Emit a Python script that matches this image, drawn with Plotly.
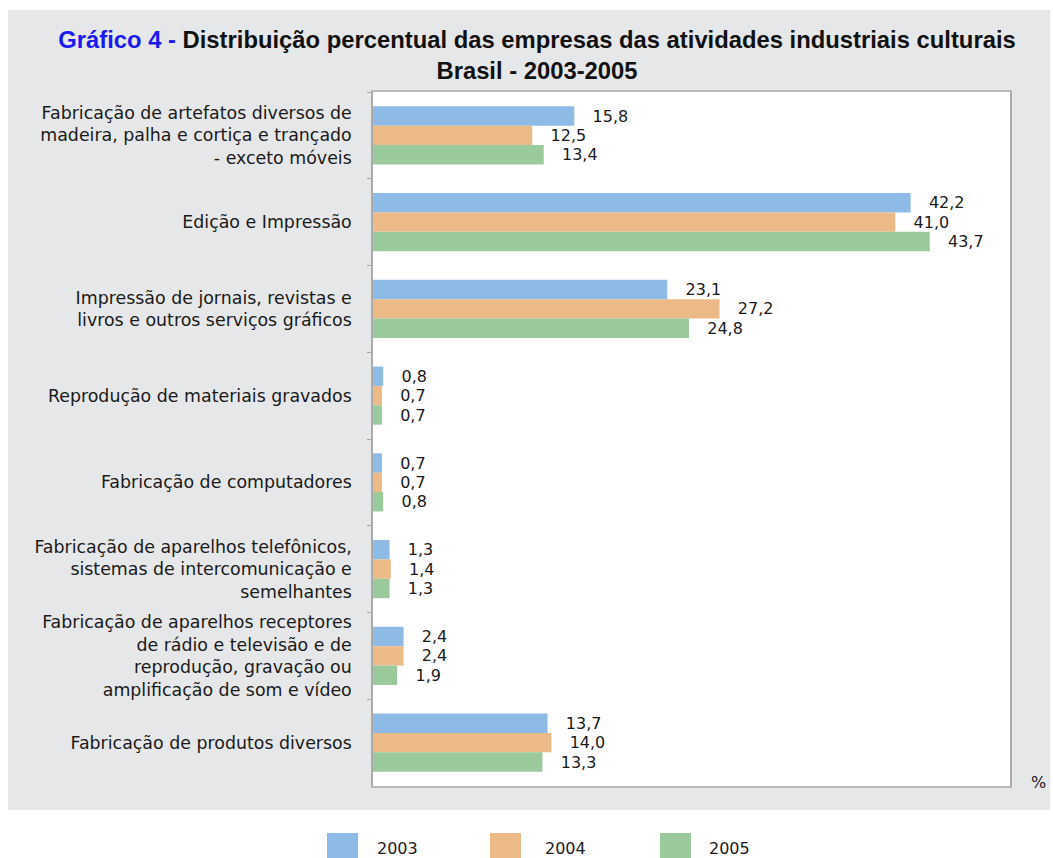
import plotly.graph_objects as go

categories = [
    "Fabricação de artefatos diversos de<br>madeira, palha e cortiça e trançado<br>- exceto móveis",
    "Edição e Impressão",
    "Impressão de jornais, revistas e<br>livros e outros serviços gráficos",
    "Reprodução de materiais gravados",
    "Fabricação de computadores",
    "Fabricação de aparelhos telefônicos,<br>sistemas de intercomunicação e<br>semelhantes",
    "Fabricação de aparelhos receptores<br>de rádio e televisão e de<br>reprodução, gravação ou<br>amplificação de som e vídeo",
    "Fabricação de produtos diversos",
]
years = ["2003", "2004", "2005"]
v2003 = [15.8, 42.2, 23.1, 0.8, 0.7, 1.3, 2.4, 13.7]
v2004 = [12.5, 41.0, 27.2, 0.7, 0.7, 1.4, 2.4, 14.0]
v2005 = [13.4, 43.7, 24.8, 0.7, 0.8, 1.3, 1.9, 13.3]
series = [v2003, v2004, v2005]
colors = ["#8dbbe6", "#ecba87", "#9ac99c"]

W, H = 1053, 858
ML, MR, MT, MB = 373, 43, 92, 72
PW, PH = W - ML - MR, H - MT - MB

def px_x(p):
    return (p - ML) / PW

def px_y(p):
    return (H - MB - p) / PH

FONT = "DejaVu Sans, sans-serif"
NB = "\u00a0"

fig = go.Figure()
for name, vals, col in zip(years, series, colors):
    fig.add_trace(go.Bar(
        name=name, y=categories, x=vals, orientation="h",
        marker=dict(color=col, line=dict(width=0)),
        text=[NB * 3 + f"{v:.1f}".replace(".", ",") for v in vals],
        textposition="outside", constraintext="none", cliponaxis=False,
        textfont=dict(family=FONT, size=16, color="#1a1a1a"),
        showlegend=False, hoverinfo="x+name",
    ))

shapes = [
    dict(type="rect", xref="paper", yref="paper",
         x0=px_x(8), x1=px_x(1050), y0=px_y(810), y1=px_y(10),
         fillcolor="#e6e7e8", line=dict(width=0), layer="below"),
    dict(type="rect", xref="paper", yref="paper", x0=0, x1=1, y0=0, y1=1,
         fillcolor="white", line=dict(width=0), layer="below"),
]
annotations = [dict(text="%", xref="paper", yref="paper", x=px_x(1038), y=px_y(782),
                    showarrow=False, xanchor="center", yanchor="middle",
                    font=dict(family=FONT, size=16, color="#1a1a1a"))]

# legend
sw_x = [327, 490, 660]
tx_x = [375, 543, 707]
for name, col, sx, tx in zip(years, colors, sw_x, tx_x):
    shapes.append(dict(type="rect", xref="paper", yref="paper",
                       x0=px_x(sx), x1=px_x(sx + 31), y0=px_y(858), y1=px_y(833),
                       fillcolor=col, line=dict(width=0)))
    annotations.append(dict(text=name, xref="paper", yref="paper", x=px_x(tx), y=px_y(848),
                            showarrow=False, xanchor="left", yanchor="middle",
                            font=dict(family=FONT, size=16, color="#1a1a1a")))

fig.update_layout(
    width=W, height=H,
    margin=dict(l=ML, r=MR, t=MT, b=MB, pad=0),
    paper_bgcolor="white", plot_bgcolor="white",
    barmode="group", bargap=0.33, bargroupgap=0,
    title=dict(
        text="<span style='color:#1a1aee'>Gráfico 4 - </span>Distribuição percentual das empresas das atividades industriais culturais<br>Brasil - 2003-2005",
        x=537 / W, xanchor="center", y=1 - 48 / H, yanchor="middle", yref="container",
        font=dict(family="Liberation Sans Narrow, Arial Narrow, Liberation Sans, sans-serif", size=23.8, color="#111111", weight="bold"),
    ),
    xaxis=dict(range=[0, 50], showticklabels=False, showgrid=False, zeroline=False,
               showline=True, linecolor="#b8b8b8", linewidth=1.5, mirror=True, ticks=""),
    yaxis=dict(type="category", autorange="reversed", tickson="boundaries",
               ticks="outside", ticklen=4, tickcolor="#a0a0a0",
               showline=True, linecolor="#ababab", linewidth=1.5, mirror=True,
               showgrid=False, ticklabelstandoff=16,
               tickfont=dict(family=FONT, size=17.4, color="#1a1a1a")),
    shapes=shapes, annotations=annotations,
)

fig.write_html("out.html", config={"displayModeBar": False},
               post_script="document.body.style.margin='0';document.body.style.overflow='hidden';")
